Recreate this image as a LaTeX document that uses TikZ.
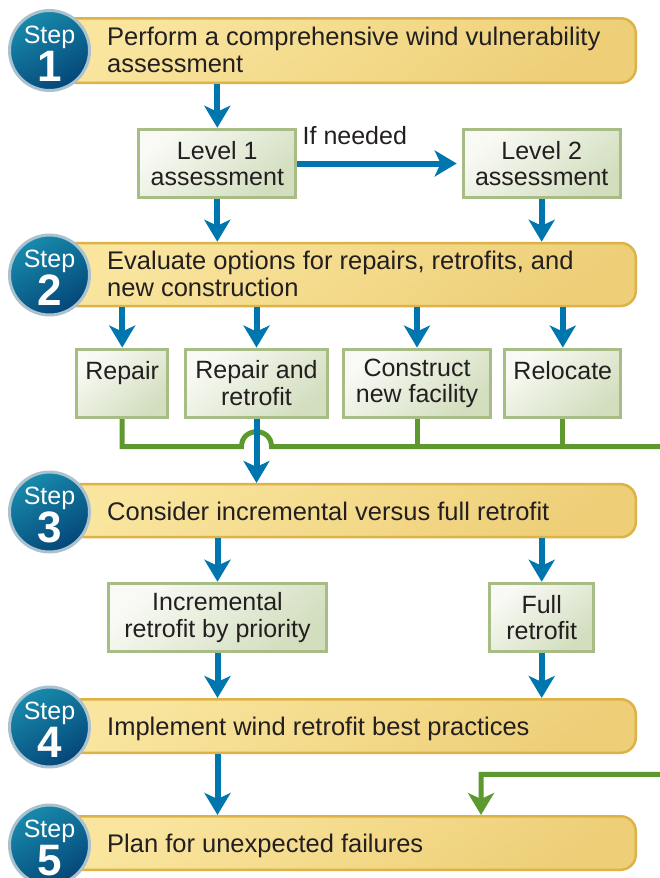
\documentclass[tikz,border=0pt]{standalone}
\usepackage{fontspec}
\setmainfont{Liberation Sans}
\usetikzlibrary{arrows.meta}

\definecolor{flowblue}{RGB}{0,118,174}
\definecolor{loopgreen}{RGB}{94,153,48}
\definecolor{barlight}{RGB}{249,229,158}
\definecolor{bardark}{RGB}{238,207,120}
\definecolor{baredge}{RGB}{221,178,70}
\definecolor{boxlight}{RGB}{249,250,245}
\definecolor{boxdark}{RGB}{210,222,190}
\definecolor{boxedge}{RGB}{168,189,133}
\definecolor{balllight}{RGB}{24,138,172}
\definecolor{balldark}{RGB}{4,70,120}
\definecolor{ballring}{RGB}{170,194,208}
\definecolor{inktext}{RGB}{35,31,32}

\tikzset{
  stepbar/.style={rectangle,rounded corners=15pt,draw=baredge,line width=2.5pt,
    top color=barlight,bottom color=bardark,shading angle=35,minimum width=574.5pt},
  stepball/.style={circle,draw=ballring,line width=3pt,top color=balllight,
    bottom color=balldark,shading angle=30,minimum size=80pt,inner sep=0pt},
  stepword/.style={anchor=base,inner sep=0pt,text=white,font=\fontsize{25}{27}\selectfont},
  stepnumber/.style={anchor=base,inner sep=0pt,text=white,
    font=\bfseries\fontsize{44}{44}\selectfont},
  steptext/.style={anchor=base west,inner sep=0pt,align=left,text=inktext,
    font=\fontsize{25.5}{27}\selectfont},
  choicebox/.style={rectangle,draw=boxedge,line width=3pt,top color=boxlight,
    bottom color=boxdark,shading angle=40,minimum height=68.5pt,inner sep=2pt,
    align=center,text=inktext,font=\fontsize{25}{26.5}\selectfont},
  bluearrow/.style={draw=flowblue,line width=6pt,
    -{Stealth[length=22pt,width=26pt,inset=6pt]}},
  greenline/.style={draw=loopgreen,line width=5pt}
}

\begin{document}
\begin{tikzpicture}[x=1pt,y=-1pt]
  \useasboundingbox (0,0) rectangle (660,878);
  \clip (0,0) rectangle (660,878);

  \begin{scope}[every node/.style={stepbar}]
    \node (bar1) at (348.5,50.5) [minimum height=64.5pt] {};
    \node (bar2) at (348.5,274.5) [minimum height=63pt] {};
    \node (bar3) at (348.5,510.7) [minimum height=53pt] {};
    \node (bar4) at (348.5,726) [minimum height=53.5pt] {};
    \node (bar5) at (348.5,843) [minimum height=53.5pt] {};
  \end{scope}

  \begin{scope}[every node/.style={stepball}]
    \node (s1) at (49.5,50.5) {};
    \node (s2) at (49.5,275) {};
    \node (s3) at (49.5,512) {};
    \node (s4) at (49.5,727) {};
    \node (s5) at (49.5,845) {};
  \end{scope}

  \begin{scope}[every node/.style={stepword}]
    \node (w1) at (49.5,43) {Step};
    \node (w2) at (49.5,267.5) {Step};
    \node (w3) at (49.5,504.5) {Step};
    \node (w4) at (49.5,719.5) {Step};
    \node (w5) at (49.5,837.5) {Step};
  \end{scope}
  \begin{scope}[every node/.style={stepnumber}]
    \node (n1) at (49.5,81) {1};
    \node (n2) at (49.5,305.5) {2};
    \node (n3) at (49.5,542.5) {3};
    \node (n4) at (49.5,757.5) {4};
    \node (n5) at (49.5,875.5) {5};
  \end{scope}

  \begin{scope}[every node/.style={steptext}]
    \node (t1) at (107,72) {Perform a comprehensive wind vulnerability\\assessment};
    \node (t2) at (107,296) {Evaluate options for repairs, retrofits, and\\new construction};
    \node (t3) at (107,520) {Consider incremental versus full retrofit};
    \node (t4) at (107,735.3) {Implement wind retrofit best practices};
    \node (t5) at (107,852.3) {Plan for unexpected failures};
  \end{scope}

  \begin{scope}[every node/.style={choicebox}]
    \node (lvl1) at (217.3,163.5) [minimum width=157pt] {Level 1\\assessment};
    \node (lvl2) at (541.7,163.5) [minimum width=157pt] {Level 2\\assessment};
    \node (rep) at (122.2,383.3) [minimum width=91.3pt] {Repair\\\mbox{}};
    \node (rr) at (256.5,383.3) [minimum width=142pt] {Repair and\\retrofit};
    \node (cnf) at (417,383.3) [minimum width=146.4pt] {Construct\\new facility};
    \node (rel) at (562.8,383.3) [minimum width=116pt] {Relocate\\\mbox{}};
    \node (inc) at (217.5,617.5) [minimum width=217.4pt] {Incremental\\retrofit by priority};
    \node (full) at (541.7,617.5) [minimum width=103.7pt] {Full\\retrofit};
  \end{scope}

  % loop back from the options to step 5
  \coordinate (hopL) at (241.5,446.7);
  \coordinate (hopR) at (271.5,446.7);
  \coordinate (farA) at (675,446.7);
  \coordinate (farB) at (675,774.3);
  \coordinate (dropC) at (481,774.3);
  \draw[greenline,-{Stealth[length=22pt,width=26pt,inset=6pt]}]
    (rep.south) |- (hopL) .. controls +(0,-20) and +(0,-20) .. (hopR)
    -- (farA) -- (farB) -- (dropC) -- (bar5.north -| dropC);
  \begin{scope}[every edge/.style={greenline}]
    \path (cnf.south) edge (cnf.south |- hopR);
    \path (rel.south) edge (rel.south |- hopR);
  \end{scope}

  \begin{scope}[every edge/.style={bluearrow}]
    \path (bar1.south -| lvl1.north) edge (lvl1.north);
    \path (lvl1.east) edge[shorten >=5pt] node[pos=.35,above=12pt,text=inktext,
      font=\fontsize{25}{26.5}\selectfont] (ifneed) {If needed} (lvl2.west);
    \path (lvl1.south) edge (bar2.north -| lvl1.south);
    \path (lvl2.south) edge (bar2.north -| lvl2.south);
    \path (bar2.south -| rep.north) edge (rep.north);
    \path (bar2.south -| rr.north) edge (rr.north);
    \path (bar2.south -| cnf.north) edge (cnf.north);
    \path (bar2.south -| rel.north) edge (rel.north);
    \path (rr.south) edge (bar3.north -| rr.south);
    \path (bar3.south -| inc.north) edge (inc.north);
    \path (bar3.south -| full.north) edge (full.north);
    \path (inc.south) edge (bar4.north -| inc.south);
    \path (full.south) edge (bar4.north -| full.south);
    \path (bar4.south -| inc.south) edge (bar5.north -| inc.south);
  \end{scope}
\end{tikzpicture}
\end{document}
